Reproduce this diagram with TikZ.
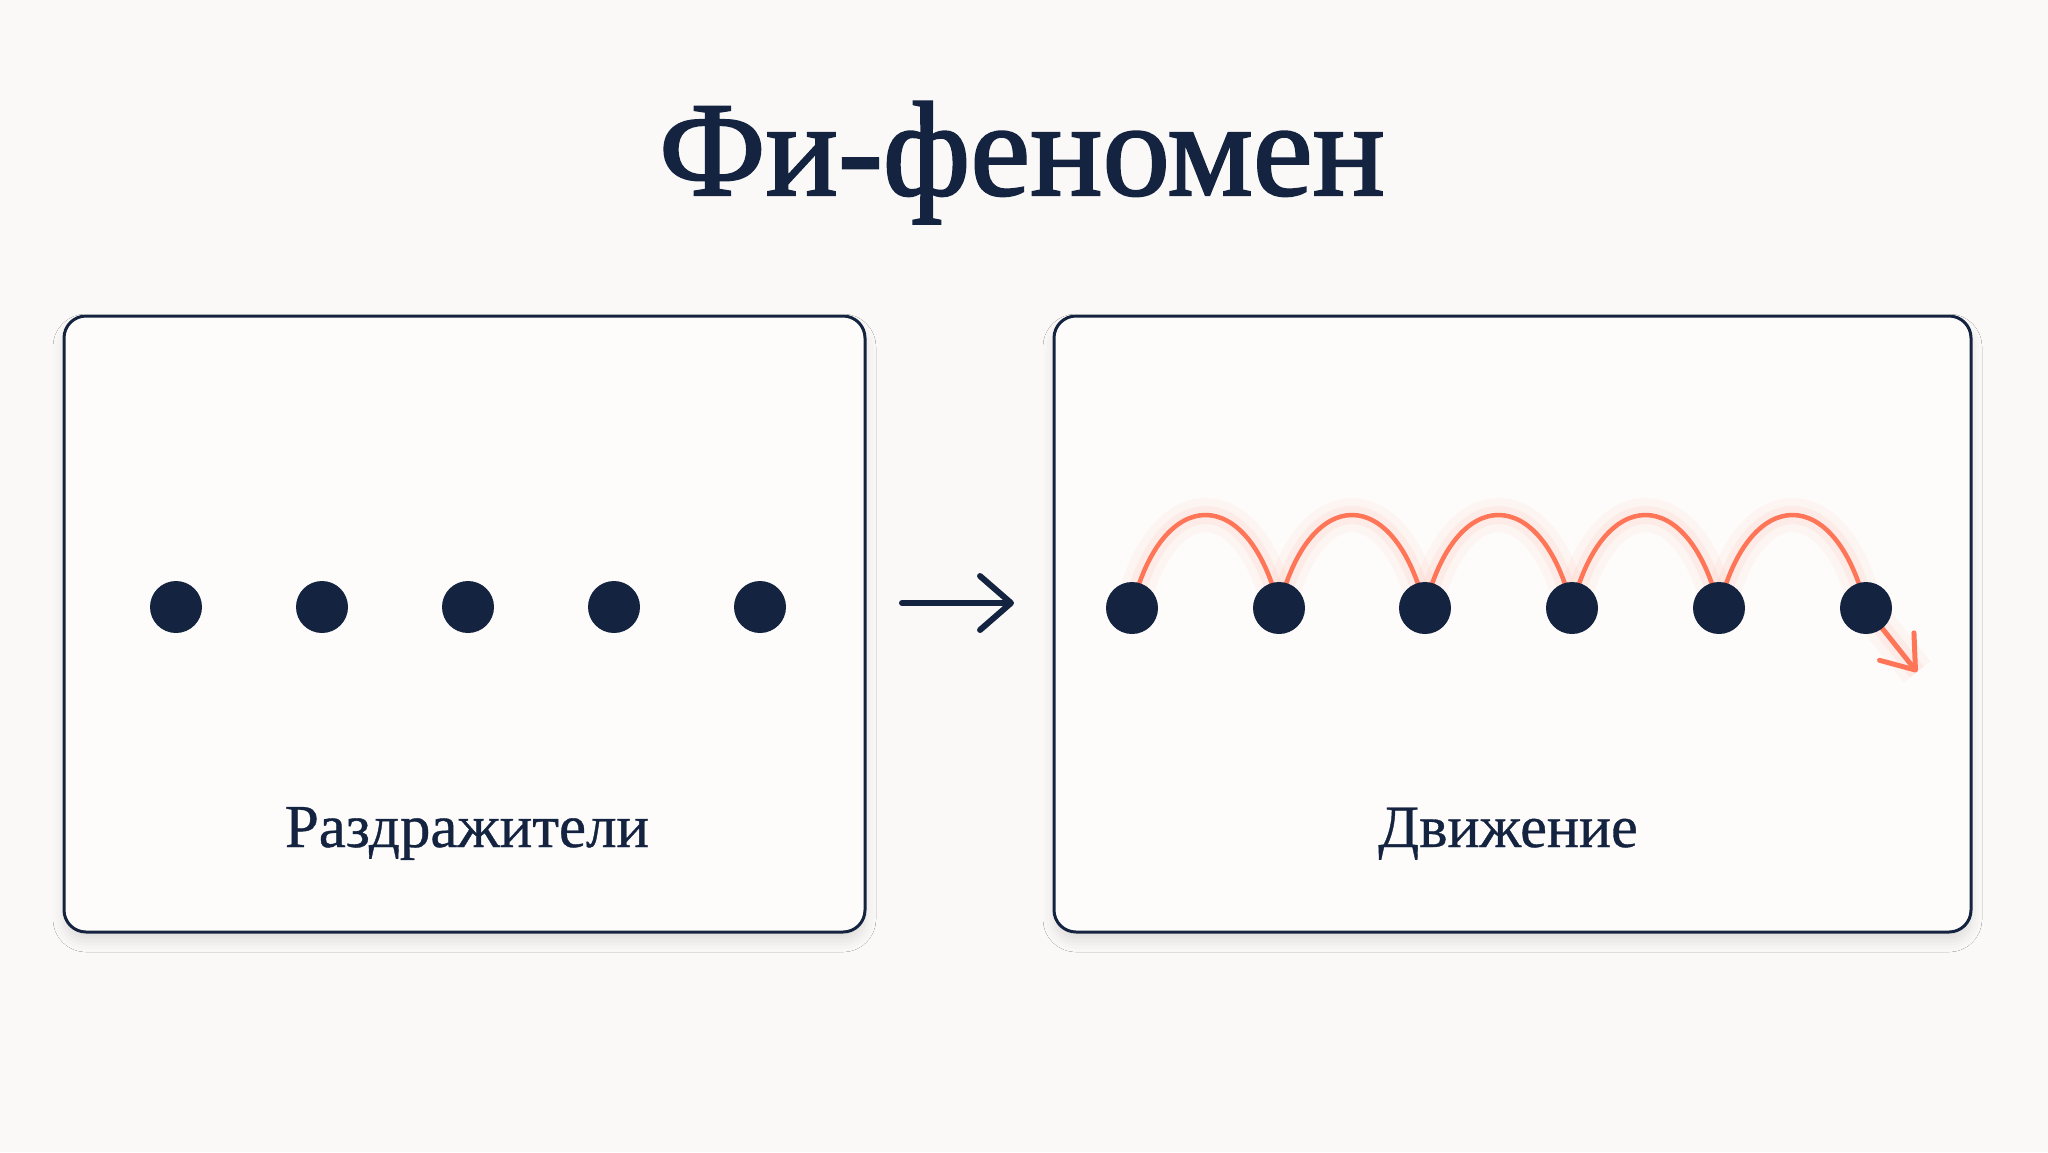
\documentclass[tikz,border=0pt]{standalone}
\usepackage{fontspec}
\setmainfont{Liberation Serif}
\newfontfamily\titlefont[FakeBold=1.6]{Liberation Serif}
\newfontfamily\capfont[FakeBold=0.6]{Liberation Serif}
\usetikzlibrary{arrows.meta,shadows.blur}
\definecolor{navy}{HTML}{14233F}
\definecolor{salmon}{HTML}{FF7557}
\definecolor{bg}{HTML}{FBF9F7}
\definecolor{boxfill}{HTML}{FDFCFB}
\begin{document}
\begin{tikzpicture}[x=1pt,y=-1pt,
  panel/.style={draw=navy,line width=3pt,rounded corners=22pt,fill=boxfill,inner sep=0pt,
    blur shadow={shadow xshift=0pt,shadow yshift=-9pt,shadow blur radius=11pt,shadow opacity=11}},
  dot/.style={circle,fill=navy,minimum size=52pt,inner sep=0pt},
  hop/.style={draw=salmon,line width=4.5pt},
  glowA/.style={draw=salmon,line width=34pt,opacity=0.05},
  glowB/.style={draw=salmon,line width=18pt,opacity=0.07},
  caption/.style={text=navy,anchor=base,font=\capfont\fontsize{61}{72}\selectfont},
  flow/.style={draw=navy,line width=6pt,line cap=round,
    -{Straight Barb[length=31pt,width=54pt,line cap=round,line join=round]}},
  jump/.style={draw=salmon,line width=5pt,line cap=round,
    -{Straight Barb[length=30pt,width=44pt,line cap=round,line join=round]}}]
\fill[bg] (0,0) rectangle (2048,1152);
\node[text=navy,anchor=base,font=\titlefont\fontsize{135}{160}\selectfont] (title) at (1022,195) {Фи-феномен};
\node[panel,minimum width=801pt,minimum height=616pt] (L) at (464.5,624) {};
\node[panel,minimum width=917pt,minimum height=616pt] (R) at (1512.5,624) {};
\node[caption] (capL) at (467,847) {Раздражители};
\node[caption,font=\capfont\fontsize{60}{72}\selectfont] (capR) at (1508,847) {Движение};
% left dots
\foreach \i/\x in {1/176,2/322,3/468,4/614,5/760}
  \node[dot] (l\i) at (\x,607) {};
% right dot centres
\foreach \i/\x in {1/1132,2/1279,3/1425,4/1572,5/1719,6/1866}
  \coordinate (c\i) at (\x,608);
\coordinate (tip) at (1917,672);
% glow
\foreach \st in {glowA,glowB}{
  \foreach \i/\j in {1/2,2/3,3/4,4/5,5/6}
    \path[\st] (c\i) .. controls +(30,-124) and +(-30,-124) .. (c\j);
  \path[\st] (c6) -- (tip);
}
% hops
\foreach \i/\j in {1/2,2/3,3/4,4/5,5/6}
  \path[hop] (c\i) .. controls +(30,-124) and +(-30,-124) .. (c\j);
\path[jump] (c6) -- (tip);
% right dots
\foreach \i in {1,...,6}
  \node[dot] (r\i) at (c\i) {};
% middle arrow
\coordinate (ma) at (902,603);
\coordinate (mb) at (1014,603);
\path[flow] (ma) -- (mb);
\end{tikzpicture}
\end{document}
